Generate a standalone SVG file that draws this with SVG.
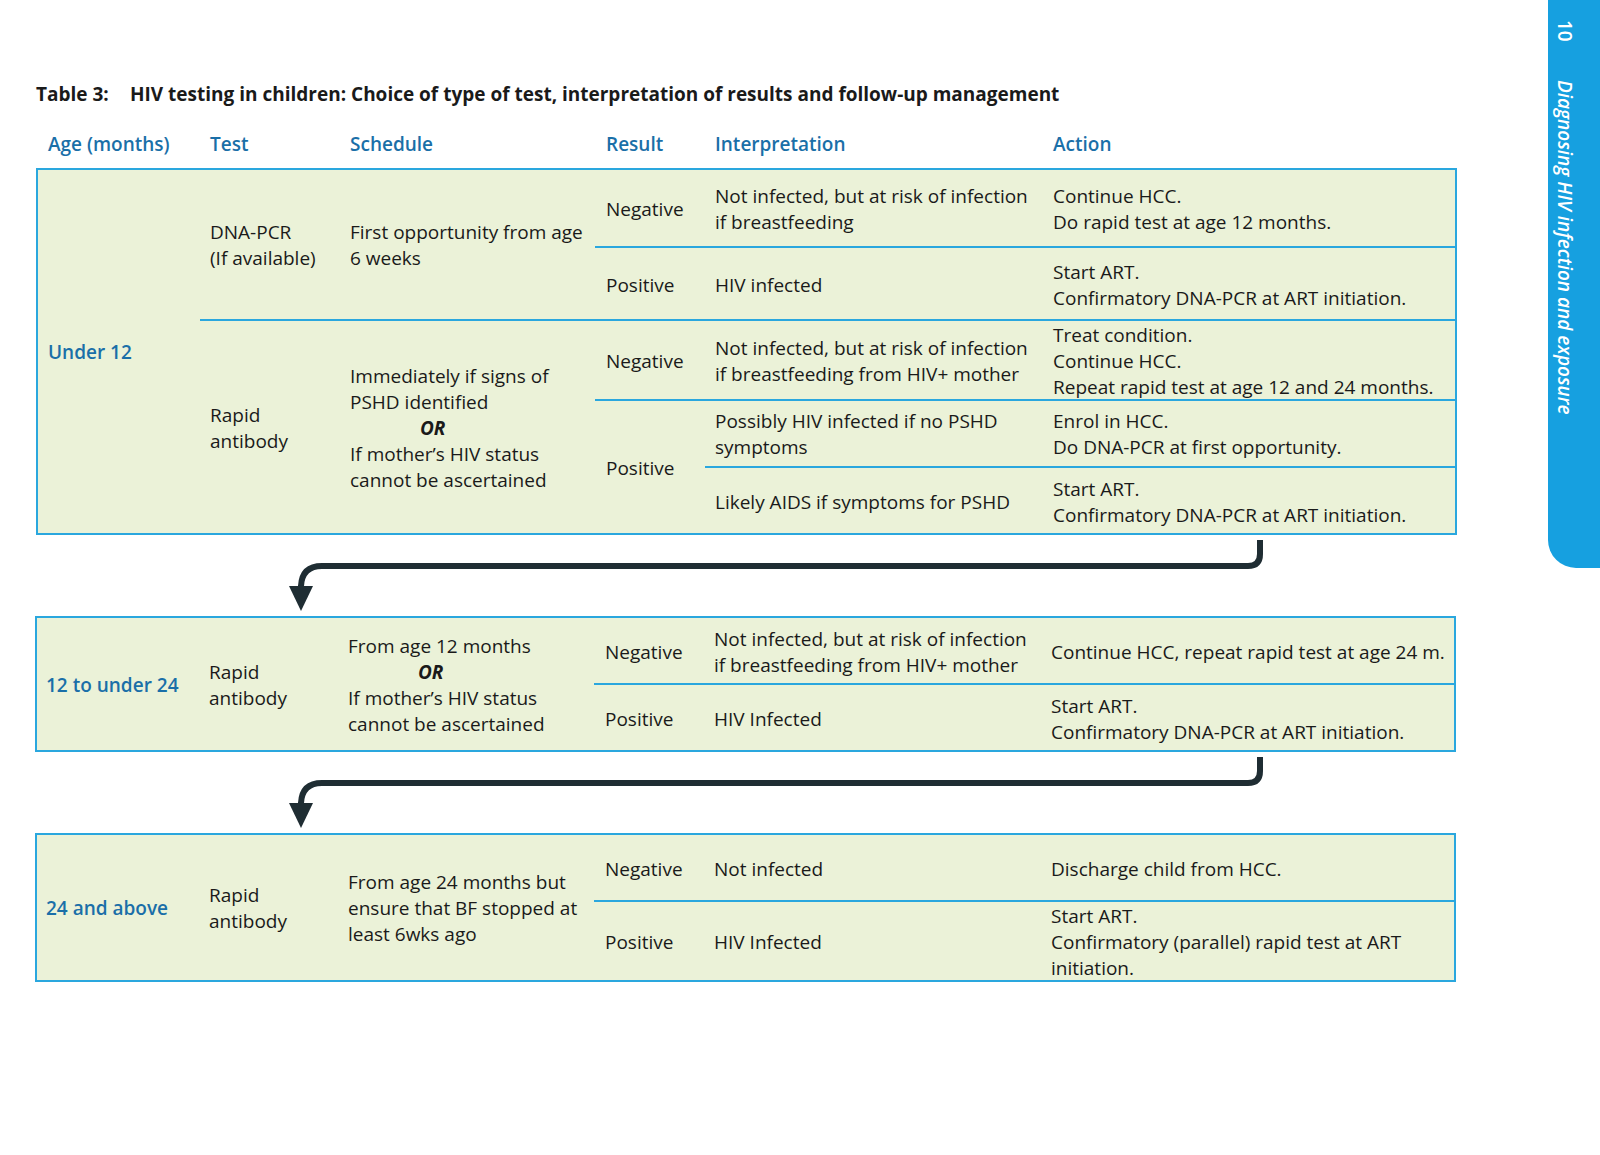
<svg xmlns="http://www.w3.org/2000/svg" width="1600" height="1155" viewBox="0 0 1600 1155">
<style>
text{font-family:"Open Sans","Liberation Sans",sans-serif;font-size:19px;fill:#1a1a1a}
.b{font-weight:bold}
.h{font-weight:600;fill:#1a6fa8}
.box{fill:#ebf2d8;stroke:#2aa7de;stroke-width:2}
.ln{stroke:#2aa7de;stroke-width:2}
.arr{fill:none;stroke:#1f2d33;stroke-width:6;stroke-linejoin:round}
.head{fill:#1f2d33}
</style>
<g id="tab"><rect x="1548" y="-30" width="80" height="598" rx="28" fill="#16a0e0"/>
<text transform="translate(1558,20) rotate(90)" style="fill:#fff;font-size:19px;font-weight:600">10</text>
<text transform="translate(1558,80) rotate(90)" style="fill:#fff;font-size:19px;font-style:italic;font-weight:600">Diagnosing HIV infection and exposure</text></g>
<g id="title"><text x="36" y="101" class="b">Table 3:</text><text x="130" y="101" class="b">HIV testing in children: Choice of type of test, interpretation of results and follow-up management</text></g>
<g id="header"><text x="48" y="151" class="h">Age (months)</text><text x="210" y="151" class="h">Test</text><text x="350" y="151" class="h">Schedule</text><text x="606" y="151" class="h">Result</text><text x="715" y="151" class="h">Interpretation</text><text x="1053" y="151" class="h">Action</text></g>
<g id="block1">
<rect class="box" x="37" y="169" width="1419" height="365"/>
<line class="ln" x1="595" y1="247" x2="1456" y2="247"/><line class="ln" x1="200" y1="320" x2="1456" y2="320"/><line class="ln" x1="595" y1="400" x2="1456" y2="400"/><line class="ln" x1="705" y1="467" x2="1456" y2="467"/>
<text x="48" y="359" class="h">Under 12</text>
<text x="210" y="239">DNA-PCR</text><text x="210" y="265">(If available)</text>
<text x="350" y="239">First opportunity from age</text><text x="350" y="265">6 weeks</text>
<text x="606" y="216">Negative</text><text x="715" y="203">Not infected, but at risk of infection</text><text x="715" y="229">if breastfeeding</text>
<text x="1053" y="203">Continue HCC.</text><text x="1053" y="229">Do rapid test at age 12 months.</text>
<text x="606" y="292">Positive</text><text x="715" y="292">HIV infected</text>
<text x="1053" y="279">Start ART.</text><text x="1053" y="305">Confirmatory DNA-PCR at ART initiation.</text>
<text x="210" y="422">Rapid</text><text x="210" y="448">antibody</text>
<text x="350" y="383">Immediately if signs of</text><text x="350" y="409">PSHD identified</text><text x="420" y="435" class="b" font-style="italic">OR</text><text x="350" y="461">If mother’s HIV status</text><text x="350" y="487">cannot be ascertained</text>
<text x="606" y="368">Negative</text><text x="715" y="355">Not infected, but at risk of infection</text><text x="715" y="381">if breastfeeding from HIV+ mother</text>
<text x="1053" y="342">Treat condition.</text><text x="1053" y="368">Continue HCC.</text><text x="1053" y="394">Repeat rapid test at age 12 and 24 months.</text>
<text x="606" y="475">Positive</text>
<text x="715" y="428">Possibly HIV infected if no PSHD</text><text x="715" y="454">symptoms</text>
<text x="1053" y="428">Enrol in HCC.</text><text x="1053" y="454">Do DNA-PCR at first opportunity.</text>
<text x="715" y="509">Likely AIDS if symptoms for PSHD</text>
<text x="1053" y="496">Start ART.</text><text x="1053" y="522">Confirmatory DNA-PCR at ART initiation.</text>
</g>
<g id="block2">
<rect class="box" x="36" y="617" width="1419" height="134"/>
<line class="ln" x1="594" y1="684" x2="1455" y2="684"/>
<text x="46" y="692" class="h">12 to under 24</text>
<text x="209" y="679">Rapid</text><text x="209" y="705">antibody</text>
<text x="348" y="653">From age 12 months</text><text x="418" y="679" class="b" font-style="italic">OR</text><text x="348" y="705">If mother’s HIV status</text><text x="348" y="731">cannot be ascertained</text>
<text x="605" y="659">Negative</text><text x="714" y="646">Not infected, but at risk of infection</text><text x="714" y="672">if breastfeeding from HIV+ mother</text>
<text x="1051" y="659">Continue HCC, repeat rapid test at age 24 m.</text>
<text x="605" y="726">Positive</text><text x="714" y="726">HIV Infected</text>
<text x="1051" y="713">Start ART.</text><text x="1051" y="739">Confirmatory DNA-PCR at ART initiation.</text>
</g>
<g id="block3">
<rect class="box" x="36" y="834" width="1419" height="147"/>
<line class="ln" x1="594" y1="901" x2="1455" y2="901"/>
<text x="46" y="915" class="h">24 and above</text>
<text x="209" y="902">Rapid</text><text x="209" y="928">antibody</text>
<text x="348" y="889">From age 24 months but</text><text x="348" y="915">ensure that BF stopped at</text><text x="348" y="941">least 6wks ago</text>
<text x="605" y="876">Negative</text><text x="714" y="876">Not infected</text><text x="1051" y="876">Discharge child from HCC.</text>
<text x="605" y="949">Positive</text><text x="714" y="949">HIV Infected</text>
<text x="1051" y="923">Start ART.</text><text x="1051" y="949">Confirmatory (parallel) rapid test at ART</text><text x="1051" y="975">initiation.</text>
</g>
<g id="connectors">
<path class="arr" d="M1260,540 V554 Q1260,566 1248,566 H322 Q302,566 301,586 V592"/>
<polygon class="head" points="289,586 313,586 301,611"/>
<path class="arr" d="M1260,757 V771 Q1260,783 1248,783 H322 Q302,783 301,803 V809"/>
<polygon class="head" points="289,803 313,803 301,828"/>
</g>
</svg>
